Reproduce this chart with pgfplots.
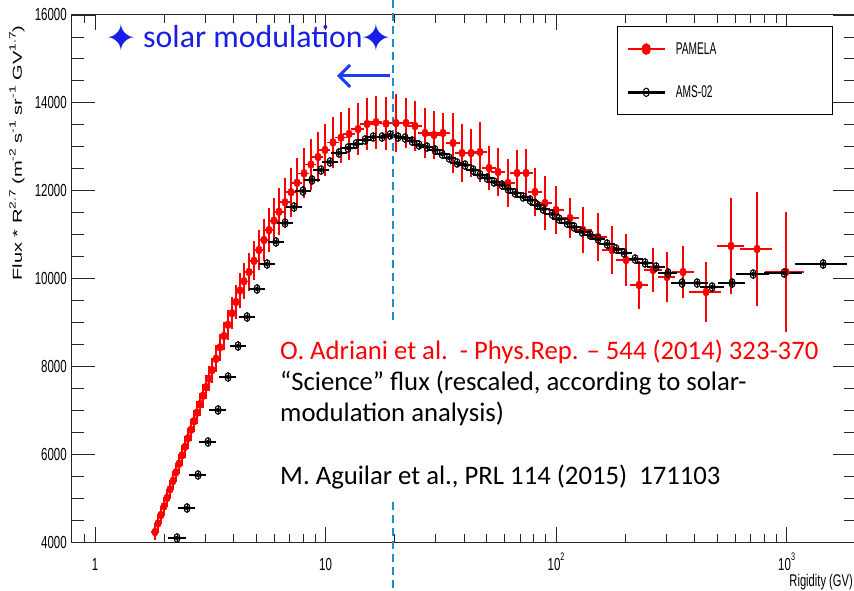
\documentclass[border=0pt]{standalone}
\usepackage{fontspec}
\usepackage{pgfplots}
\usepackage{pgfplotstable}
\pgfplotsset{compat=1.18}
\usetikzlibrary{arrows.meta}
\setmainfont{Carlito}
\newfontfamily\rootfont[FakeStretch=0.66]{Liberation Sans}
\newfontfamily\legendfont[FakeStretch=0.6]{Liberation Sans}
\newfontfamily\rootlabelfont[FakeStretch=1.55]{Liberation Sans}
\newfontfamily\symfont{DejaVu Sans}
\definecolor{pamelared}{RGB}{255,0,0}
\definecolor{titleblue}{RGB}{25,30,230}
\definecolor{arrowblue}{RGB}{30,60,240}
\definecolor{cutblue}{RGB}{30,140,210}
\newcommand{\up}[1]{\raisebox{0.5em}{\fontsize{9}{9}\selectfont #1}}
\newcommand{\upt}[1]{\raisebox{0.55em}{\fontsize{11}{11}\selectfont #1}}

% PAMELA proton flux x R^2.7: rigidity (GV), flux, relative bin half-width, flux error
\pgfplotstableread{
R      F      rx     ey
1.821  4228   0.016  137
1.876  4421   0.016  140
1.933  4615   0.016  150
1.992  4811   0.016  150
2.053  5004   0.016  160
2.115  5198   0.016  160
2.180  5391   0.016  170
2.246  5585   0.016  170
2.314  5781   0.016  180
2.385  5974   0.016  190
2.458  6168   0.016  200
2.532  6361   0.016  200
2.609  6555   0.016  210
2.689  6751   0.016  210
2.770  6944   0.016  220
2.855  7138   0.016  220
2.941  7331   0.016  230
3.031  7525   0.016  230
3.123  7721   0.016  240
3.218  7914   0.016  240
3.349  8171   0.020  260
3.485  8431   0.020  270
3.628  8691   0.020  280
3.776  8948   0.020  300
3.930  9208   0.020  320
4.090  9465   0.020  340
4.257  9727   0.020  350
4.431  9936   0.022  360
4.658  10148  0.025  380
4.896  10401  0.025  400
5.146  10649  0.025  420
5.410  10877  0.025  440
5.686  11102  0.025  460
5.978  11316  0.025  480
6.284  11519  0.028  490
6.674  11737  0.030  500
7.086  11963  0.030  510
7.523  12181  0.030  520
8.068  12395  0.035  520
8.652  12596  0.035  530
9.279  12766  0.035  530
9.950  12926  0.035  540
10.78  13099  0.040  540
11.67  13208  0.040  540
12.65  13290  0.040  550
13.84  13402  0.045  550
15.14  13518  0.045  550
16.56  13559  0.045  560
18.30  13527  0.050  560
20.23  13538  0.050  620
22.35  13541  0.050  530
24.45  13472  0.050  520
27.02  13313  0.050  530
29.55  13267  0.050  500
32.34  13313  0.050  420
35.74  13085  0.050  640
39.10  12858  0.050  620
42.78  12858  0.050  500
46.80  12880  0.050  640
51.20  12516  0.050  460
56.02  12425  0.050  500
61.91  12174  0.050  500
67.73  12402  0.050  480
74.10  12402  0.050  500
81.07  11970  0.050  500
89.60  11719  0.055  570
100.0  11560  0.060  500
115.0  11377  0.070  400
130.9  11104  0.070  480
152.1  10945  0.075  500
175.0  10649  0.075  500
201.2  10421  0.075  550
229.2  9852   0.070  500
263.6  10193  0.070  460
303.0  10034  0.065  520
355.6  10148  0.090  550
447.5  9693   0.140  640
574.4  10740  0.110  1050
744.7  10672  0.140  1260
994.9  10148  0.170  1330
}\pamela

% AMS-02 proton flux x R^2.7: rigidity (GV), flux, relative bin half-width
\pgfplotstableread{
R      F      rx
2.269  4091   0.055
2.507  4774   0.050
2.798  5526   0.050
3.092  6277   0.050
3.417  7006   0.050
3.776  7757   0.050
4.173  8463   0.048
4.565  9123   0.048
5.044  9761   0.048
5.575  10330  0.046
6.098  10831  0.046
6.674  11264  0.045
7.300  11628  0.045
7.987  11992  0.045
8.738  12243  0.045
9.561  12470  0.044
10.46  12653  0.044
11.44  12858  0.044
12.52  12971  0.042
13.56  13062  0.040
14.84  13154  0.040
16.08  13222  0.040
17.58  13222  0.040
19.05  13267  0.040
20.63  13222  0.038
22.13  13199  0.036
23.73  13131  0.036
25.44  13040  0.036
27.56  12994  0.038
29.86  12926  0.036
32.03  12835  0.036
34.35  12744  0.036
37.21  12630  0.038
40.30  12584  0.038
43.65  12470  0.036
46.80  12357  0.035
50.19  12288  0.035
53.83  12197  0.035
58.31  12129  0.035
61.91  12038  0.032
66.40  11947  0.035
71.92  11856  0.037
77.13  11787  0.035
82.73  11673  0.033
87.82  11582  0.035
96.08  11469  0.040
103.0  11355  0.038
111.6  11264  0.038
119.7  11173  0.038
129.7  11059  0.040
140.5  10990  0.040
152.1  10899  0.040
166.5  10785  0.045
182.1  10672  0.045
197.2  10581  0.045
220.1  10444  0.050
243.3  10353  0.050
271.6  10262  0.055
306.1  10125  0.060
352.1  9897   0.075
408.9  9897   0.075
475.2  9806   0.085
580.2  9897   0.100
715.6  10102  0.130
975.4  10125  0.150
1440   10330  0.220
}\ams

\begin{document}
\begin{tikzpicture}
\path[use as bounding box] (-72bp,-49bp) rectangle (782bp,542bp);
\begin{axis}[
  scale only axis, width=784bp, height=527bp,
  xmode=log, xmin=0.795, xmax=2000,
  ymin=4000, ymax=16000,
  clip=false,
  axis line style={line width=1bp, black!85},
  every tick/.style={black!85, line width=0.9bp},
  major tick length=23bp, minor tick length=12bp,
  xtick style={/pgfplots/major tick length=15bp, /pgfplots/minor tick length=8bp},
  xtick={1,10,100,1000},
  xticklabels={1,10,10\upt{2},10\upt{3}},
  minor xtick={0.9,2,3,4,5,6,7,8,9,20,30,40,50,60,70,80,90,200,300,400,500,600,700,800,900,2000},
  ytick={4000,6000,8000,10000,12000,14000,16000},
  yticklabels={4000,6000,8000,10000,12000,14000,16000},
  minor y tick num=3,
  scaled y ticks=false,
  ticklabel style={font=\rootfont\fontsize{17.5}{17.5}\selectfont, inner sep=0pt},
  xticklabel style={anchor=base, yshift=-28bp},
  yticklabel style={anchor=east, xshift=-5bp},
  xlabel={Rigidity (GV)},
  every axis x label/.style={at={(rel axis cs:0.9962,0)}, anchor=base east, yshift=-44bp, inner sep=0pt, font=\rootfont\fontsize{17}{17}\selectfont},
  ylabel={Flux * R\up{2.7} (m\up{-2} s\up{-1} sr\up{-1} GV\up{1.7})},
  every axis y label/.style={at={(rel axis cs:-0.0702,0.738)}, rotate=90, anchor=center, inner sep=0pt, font=\rootlabelfont\fontsize{13}{13}\selectfont},
  legend image code/.code={\draw[mark repeat=2,mark phase=2,#1] plot coordinates {(0bp,0bp) (18.5bp,0bp) (37bp,0bp)};},
  legend cell align=left,
  legend style={at={(rel axis cs:0.6952,0.9791)}, anchor=north west, draw=black, line width=1bp, fill=white,
    inner xsep=9bp, inner ysep=16bp, row sep=30bp, column sep=10bp,
    nodes={inner sep=0pt}, font=\legendfont\fontsize{17}{17}\selectfont},
]
\addlegendimage{pamelared, line width=2.4bp, mark=*, mark size=3.5bp, mark options={yscale=1.3}}
\addlegendentry{\makebox[148bp][l]{PAMELA}}
\addlegendimage{black, line width=2.4bp, mark=o, mark size=3bp, mark options={yscale=1.4, line width=1bp, fill=white}}
\addlegendentry{\makebox[148bp][l]{AMS-02}}

% PAMELA
\addplot[forget plot, only marks, mark=*, color=pamelared, mark size=3.3bp, mark options={yscale=1.25},
  error bars/.cd, x dir=both, x explicit relative, y dir=both, y explicit,
  error bar style={line width=1.6bp, pamelared},
  error mark options={line width=1.6bp, mark size=2bp, pamelared}]
  table[x=R, y=F, x error=rx, y error=ey] {\pamela};

% AMS-02
\addplot[forget plot, only marks, mark=o, black, mark size=3bp, mark options={yscale=1.45, line width=1.1bp},
  error bars/.cd, x dir=both, x explicit relative,
  error bar style={line width=2bp, black},
  error mark options={line width=1.5bp, mark size=3.5bp, black}]
  table[x=R, y=F, x error=rx] {\ams};
\addplot[forget plot, only marks, mark=none, black,
  error bars/.cd, y dir=both, y fixed=90, error mark=none,
  error bar style={line width=1bp, black}]
  table[x=R, y=F] {\ams};

% rigidity cut
\draw[cutblue, line width=2.2bp, dash pattern=on 8bp off 5bp] (axis cs:19.7,16341) -- (axis cs:19.7,9055);
\draw[cutblue, line width=2.2bp, dash pattern=on 8bp off 5bp] (axis cs:19.7,4911) -- (axis cs:19.7,2884);
\end{axis}

% annotations
\node[titleblue, inner sep=0pt, font=\symfont\fontsize{38}{38}\selectfont] at (49bp,504bp) {✦};
\node[titleblue, inner sep=0pt, anchor=base west, font=\fontsize{32}{32}\selectfont] at (71bp,494bp) {solar modulation};
\node[titleblue, inner sep=0pt, font=\symfont\fontsize{38}{38}\selectfont] at (304bp,504bp) {✦};
\draw[arrowblue, line width=3bp, -{Straight Barb[length=11bp, width=22bp, line width=3bp]}] (318bp,466bp) -- (265bp,466bp);

\begin{scope}[every node/.style={inner sep=0pt, anchor=base west, font=\fontsize{26.8}{31}\selectfont}]
\node[pamelared] at (208bp,182bp) {O. Adriani et al.\ \ - Phys.Rep. – 544 (2014) 323-370};
\node at (208bp,151bp) {“Science” flux (rescaled, according to solar-};
\node at (208bp,120bp) {modulation analysis)};
\node at (208bp,57bp) {M. Aguilar et al., PRL 114 (2015)\ \ 171103};
\end{scope}
\end{tikzpicture}
\end{document}
